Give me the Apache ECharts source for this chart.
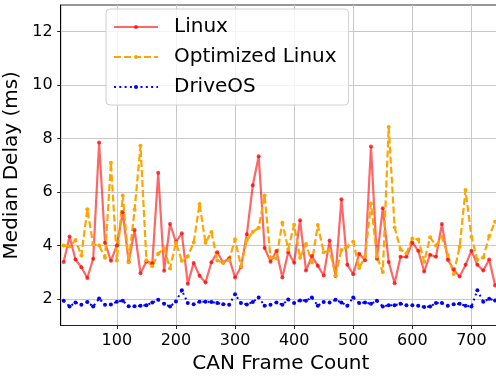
<!DOCTYPE html>
<html>
<head>
<meta charset="utf-8">
<script src="https://cdn.jsdelivr.net/npm/echarts@6/dist/echarts.min.js"></script>
<style>
html,body{margin:0;padding:0;background:#fff;}
#chart{width:496px;height:376px;}
</style>
</head>
<body>
<div id="chart"></div>
<script>
var frames = [10,20,30,40,50,60,70,80,90,100,110,120,130,140,150,160,170,180,190,200,
  210,220,230,240,250,260,270,280,290,300,310,320,330,340,350,360,370,380,390,400,
  410,420,430,440,450,460,470,480,490,500,510,520,530,540,550,560,570,580,590,600,
  610,620,630,640,650,660,670,680,690,700,710,720,730,740];

var linux = [3.38,4.33,3.47,3.18,2.78,3.5,7.85,4.1,3.42,4.0,
  5.24,3.38,4.58,2.96,3.4,3.33,6.72,3.05,4.8,4.13,
  4.45,2.56,3.34,2.86,2.61,3.37,3.74,3.35,3.52,2.8,
  3.19,4.42,6.25,7.34,3.9,3.39,3.79,2.8,3.74,3.35,
  4.94,3.06,3.6,3.24,2.87,4.18,2.85,5.73,3.27,2.92,
  3.69,3.44,7.7,3.5,5.39,3.38,2.58,3.57,3.57,4.1,
  3.8,3.02,3.65,3.57,4.8,3.46,3.09,2.83,3.27,3.8,
  3.27,3.06,3.47,2.5];

var optimized = [4.0,3.96,4.2,3.62,5.35,4.03,4.0,3.54,7.09,3.43,
  5.87,3.37,5.33,7.73,3.44,3.22,3.69,3.89,3.13,4.1,
  3.42,3.58,4.11,5.55,4.1,4.5,3.43,3.36,3.45,4.23,
  3.21,4.2,4.5,4.66,5.87,3.56,3.51,4.85,3.85,4.77,
  3.54,4.05,3.36,4.76,3.74,3.82,2.88,3.83,3.95,4.14,
  3.15,3.58,5.57,3.58,3.0,8.43,4.67,3.85,3.7,4.26,
  4.22,3.39,4.3,4.0,4.32,3.64,2.93,3.95,6.07,4.32,
  3.45,3.55,4.35,4.88];

var driveos = [1.93,1.71,1.86,1.78,1.88,1.71,2.01,1.78,1.79,1.89,
  1.93,1.72,1.72,1.74,1.76,1.86,1.96,1.81,1.71,1.9,
  2.32,1.84,1.8,1.89,1.89,1.88,1.84,1.8,1.78,2.17,
  1.84,1.79,1.88,2.05,1.74,1.78,1.86,1.78,1.97,1.84,
  1.94,1.93,2.05,1.74,1.88,1.86,1.96,1.86,1.74,2.05,
  1.84,1.86,1.81,1.93,1.71,1.76,1.76,1.81,1.76,1.76,
  1.74,1.69,1.71,1.84,1.84,1.74,1.8,1.81,1.74,1.71,
  2.32,1.89,2.0,1.94];

var xTicks = [100,200,300,400,500,600,700];
var yTicks = [2,4,6,8,10,12];

function pairs(vals){ return frames.map(function(f,i){ return [f, vals[i]]; }); }

var FONT = 'DejaVu Sans';
var chart = echarts.init(document.getElementById('chart'), null, {renderer:'canvas'});
chart.setOption({
  animation: false,
  backgroundColor: '#fff',
  grid: { left: 60.7, right: -5, top: 5, bottom: 50.5, show: true, containLabel: false,
          outerBoundsMode: 'none',
          borderColor: '#333', borderWidth: 1, backgroundColor: 'transparent' },
  legend: {
    orient: 'vertical', left: 106, top: 9,
    padding: [8, 12, 8, 7],
    itemWidth: 44, itemHeight: 5, itemGap: 10,
    backgroundColor: 'rgba(255,255,255,0.8)',
    borderColor: '#d0d0d0', borderWidth: 1, borderRadius: 4,
    textStyle: { fontFamily: FONT, fontSize: 20, color: '#000', lineHeight: 20, padding: [0,0,0,11] },
    data: ['Linux', 'Optimized Linux', 'DriveOS']
  },
  xAxis: {
    type: 'value', min: 5, max: 750, splitNumber: 7,
    name: 'CAN Frame Count', nameLocation: 'middle', nameGap: 27,
    nameTextStyle: { fontFamily: FONT, fontSize: 20, color: '#000' },
    axisLine: { show: true, lineStyle: { color: '#222', width: 1 } },
    axisTick: { show: true, length: 3.5, customValues: xTicks, lineStyle: { color: '#222' } },
    axisLabel: { customValues: xTicks, margin: 7, fontFamily: FONT, fontSize: 16, color: '#000' },
    splitLine: { show: true, lineStyle: { color: '#c8c8c8', width: 1 } }
  },
  yAxis: {
    type: 'value', min: 1, max: 13, splitNumber: 6,
    name: 'Median Delay (ms)', nameLocation: 'middle', nameGap: 30,
    nameTextStyle: { fontFamily: FONT, fontSize: 20, color: '#000' },
    axisLine: { show: true, lineStyle: { color: '#000', width: 1 } },
    axisTick: { show: true, length: 3.5, customValues: yTicks, lineStyle: { color: '#222' } },
    axisLabel: { customValues: yTicks, margin: 8, fontFamily: FONT, fontSize: 16, color: '#000' },
    splitLine: { show: true, lineStyle: { color: '#c8c8c8', width: 1 } }
  },
  series: [
    { name: 'Linux', type: 'line', data: pairs(linux), symbol: 'circle', symbolSize: 4,
      itemStyle: { color: 'rgba(255,0,0,0.75)' },
      lineStyle: { color: 'rgba(255,0,0,0.6)', width: 2.2 } },
    { name: 'Optimized Linux', type: 'line', data: pairs(optimized), symbol: 'circle', symbolSize: 4,
      itemStyle: { color: '#ffa500' },
      lineStyle: { color: '#ffa500', width: 2.2, type: [7, 3] } },
    { name: 'DriveOS', type: 'line', data: pairs(driveos), symbol: 'circle', symbolSize: 4,
      itemStyle: { color: '#0000ff' },
      lineStyle: { color: '#0000ff', width: 2, type: [2, 3.3] } }
  ]
});
</script>
</body>
</html>
